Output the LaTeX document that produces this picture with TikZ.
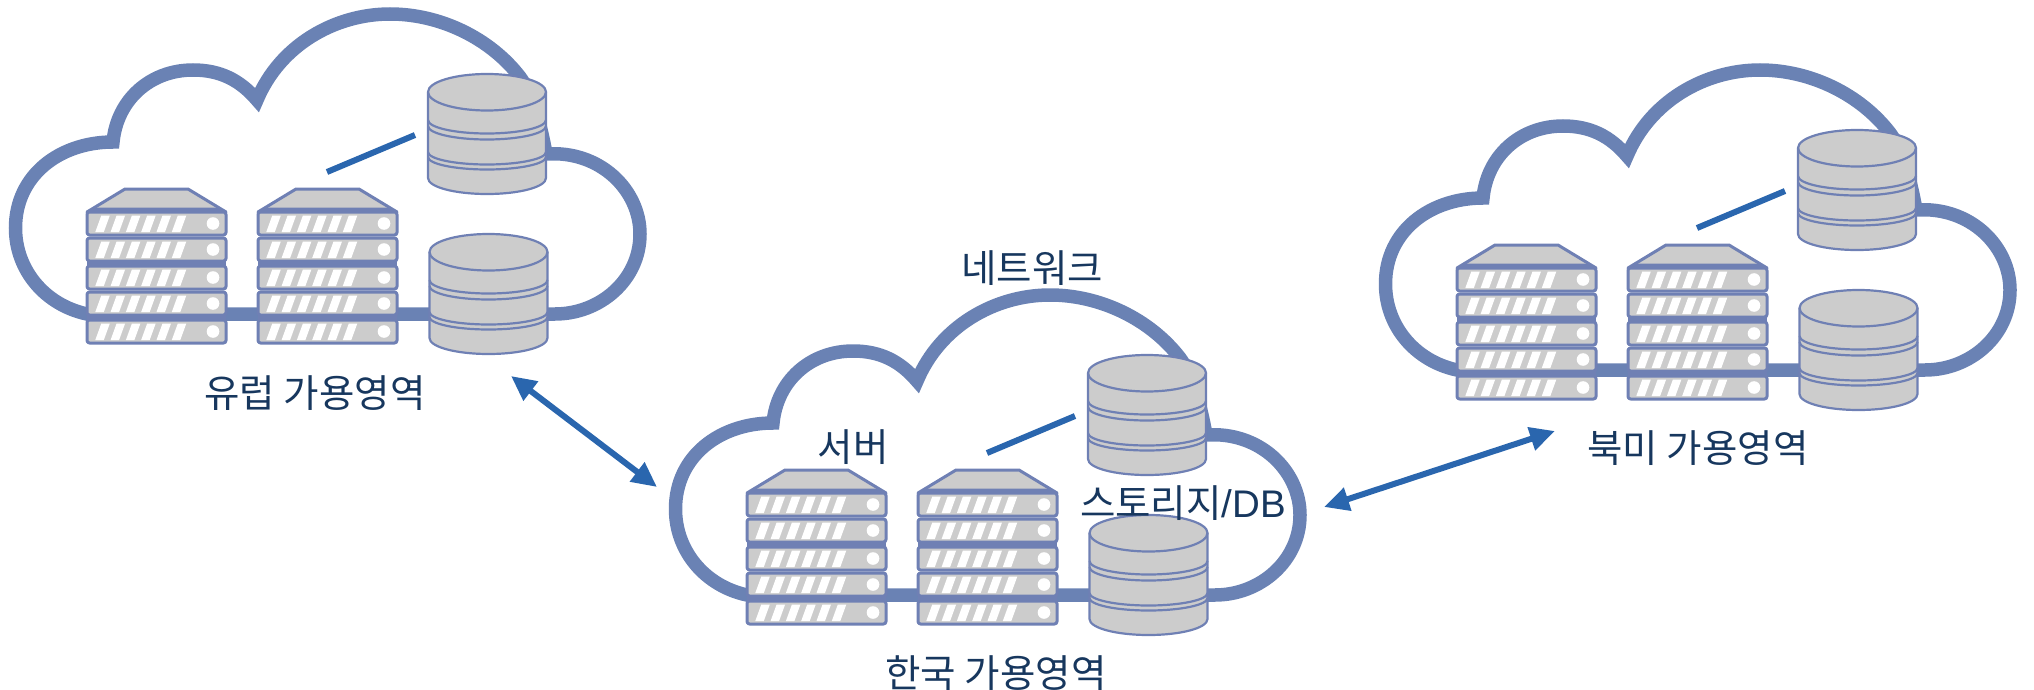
\documentclass[tikz,border=0pt]{standalone}
\usepackage{fontspec}
\setmainfont{Noto Sans CJK KR}
\newfontfamily\latinlabel{Liberation Sans}
\usetikzlibrary{arrows.meta}
\definecolor{cloudblue}{HTML}{6A82B4}
\definecolor{rackblue}{HTML}{6F80B4}
\definecolor{rackgrey}{HTML}{CCCCCC}
\definecolor{linkblue}{HTML}{2A66AE}
\definecolor{labelblue}{HTML}{17375E}
\newcommand{\dbarc}[2]{(0,#1) .. controls (0,{#1+.55*#2}) and (26.5,{#1+#2}) .. (59,{#1+#2}) .. controls (91.5,{#1+#2}) and (118,{#1+.55*#2}) .. (118,#1)}
\tikzset{
  x=1pt,y=-1pt,
  cloudline/.style={draw=cloudblue,line width=13.5pt,line join=miter,miter limit=10},
  rackline/.style={draw=rackblue,line width=3pt,fill=rackgrey,line join=round},
  dbline/.style={draw=rackblue,line width=2.2pt,fill=rackgrey},
  dbring/.style={draw=rackblue,line width=2.2pt},
  link/.style={draw=linkblue,line width=6pt},
  dbl/.style={draw=linkblue,line width=6pt,{Triangle[length=25pt,width=23pt]}-{Triangle[length=25pt,width=23pt]}},
  label/.style={text=labelblue,font=\fontsize{38.5}{42}\selectfont,inner sep=0pt,anchor=center},
  server/.pic={
    \draw[rackline] (0,24) -- (38,1) -- (101,1) -- (139,24) -- cycle;
    \fill[rackblue] (7,19.5) -- (132,19.5) -- (139,25) -- (0,25) -- cycle;
    \fill[rackblue] (0,73) rectangle (139,78);
    \fill[rackblue] (0,127) rectangle (139,132.5);
    \foreach \u in {24,50,78,104,132} {
      \draw[rackline,rounded corners=2.5pt] (0,\u) rectangle (139,\u+23);
      \foreach \i in {0,...,5} {
        \fill[white] ({8.3+15.3*\i},\u+20) -- ({16.8+15.3*\i},\u+20) -- ({22.8+15.3*\i},\u+3.5) -- ({14.3+15.3*\i},\u+3.5) -- cycle;
      }
      \fill[white] (126,\u+11.5) circle[radius=6.3pt];
    }
  },
  database/.pic={
    \path[dbline] (0,18) .. controls (0,8) and (26.5,0) .. (59,0) .. controls (91.5,0) and (118,8) .. (118,18) -- (118,104) .. controls (118,113) and (91.5,120) .. (59,120) .. controls (26.5,120) and (0,113) .. (0,104) -- cycle;
    \draw[dbring] \dbarc{18}{18.5};
    \draw[dbring] \dbarc{46}{13.5};
    \draw[dbring] \dbarc{52}{13.5};
    \draw[dbring] \dbarc{78}{12.5};
    \draw[dbring] \dbarc{83}{12.5};
  },
  zone/.pic={
    \draw[cloudline] (87,314) .. controls (45,305) and (15.5,270) .. (15.5,228)
      .. controls (15.5,175) and (60,142) .. (113,142)
      .. controls (117,100) and (150,70) .. (193,70)
      .. controls (220,70) and (240,80) .. (257,100)
      .. controls (280,45) and (335,14) .. (390,14)
      .. controls (440,14) and (490,38) .. (520,77)
      .. controls (532,93) and (541,125) .. (546,154)
      .. controls (600,150) and (640,190) .. (640,234)
      .. controls (640,280) and (600,314) .. (555,314)
      -- cycle;
    \pic at (87,188) {server};
    \pic at (258,188) {server};
    \pic at (428,74) {database};
    \pic at (429.5,234) {database};
    \coordinate (-a) at (327,172);
    \coordinate (-b) at (415,135);
    \draw[link] (-a) -- (-b);
  }
}
\begin{document}
\begin{tikzpicture}
\useasboundingbox (0,0) rectangle (2034,690);
\pic (eu) at (0,0) {zone};
\pic (kr) at (660,281) {zone};
\pic (na) at (1370,56) {zone};
\coordinate (p1) at (511,376);
\coordinate (p2) at (657,487);
\coordinate (p3) at (1324,507);
\coordinate (p4) at (1555,431);
\draw[dbl] (p1) -- (p2);
\draw[dbl] (p3) -- (p4);
\node[label] (eulabel) at (315,393) {유럽 가용영역};
\node[label] (netlabel) at (1032,268) {네트워크};
\node[label] (srvlabel) at (853,447) {서버};
\node[label] (dblabel) at (1183,503) {스토리지{\latinlabel /DB}};
\node[label] (krlabel) at (996,673) {한국 가용영역};
\node[label] (nalabel) at (1698,448) {북미 가용영역};
\end{tikzpicture}
\end{document}
